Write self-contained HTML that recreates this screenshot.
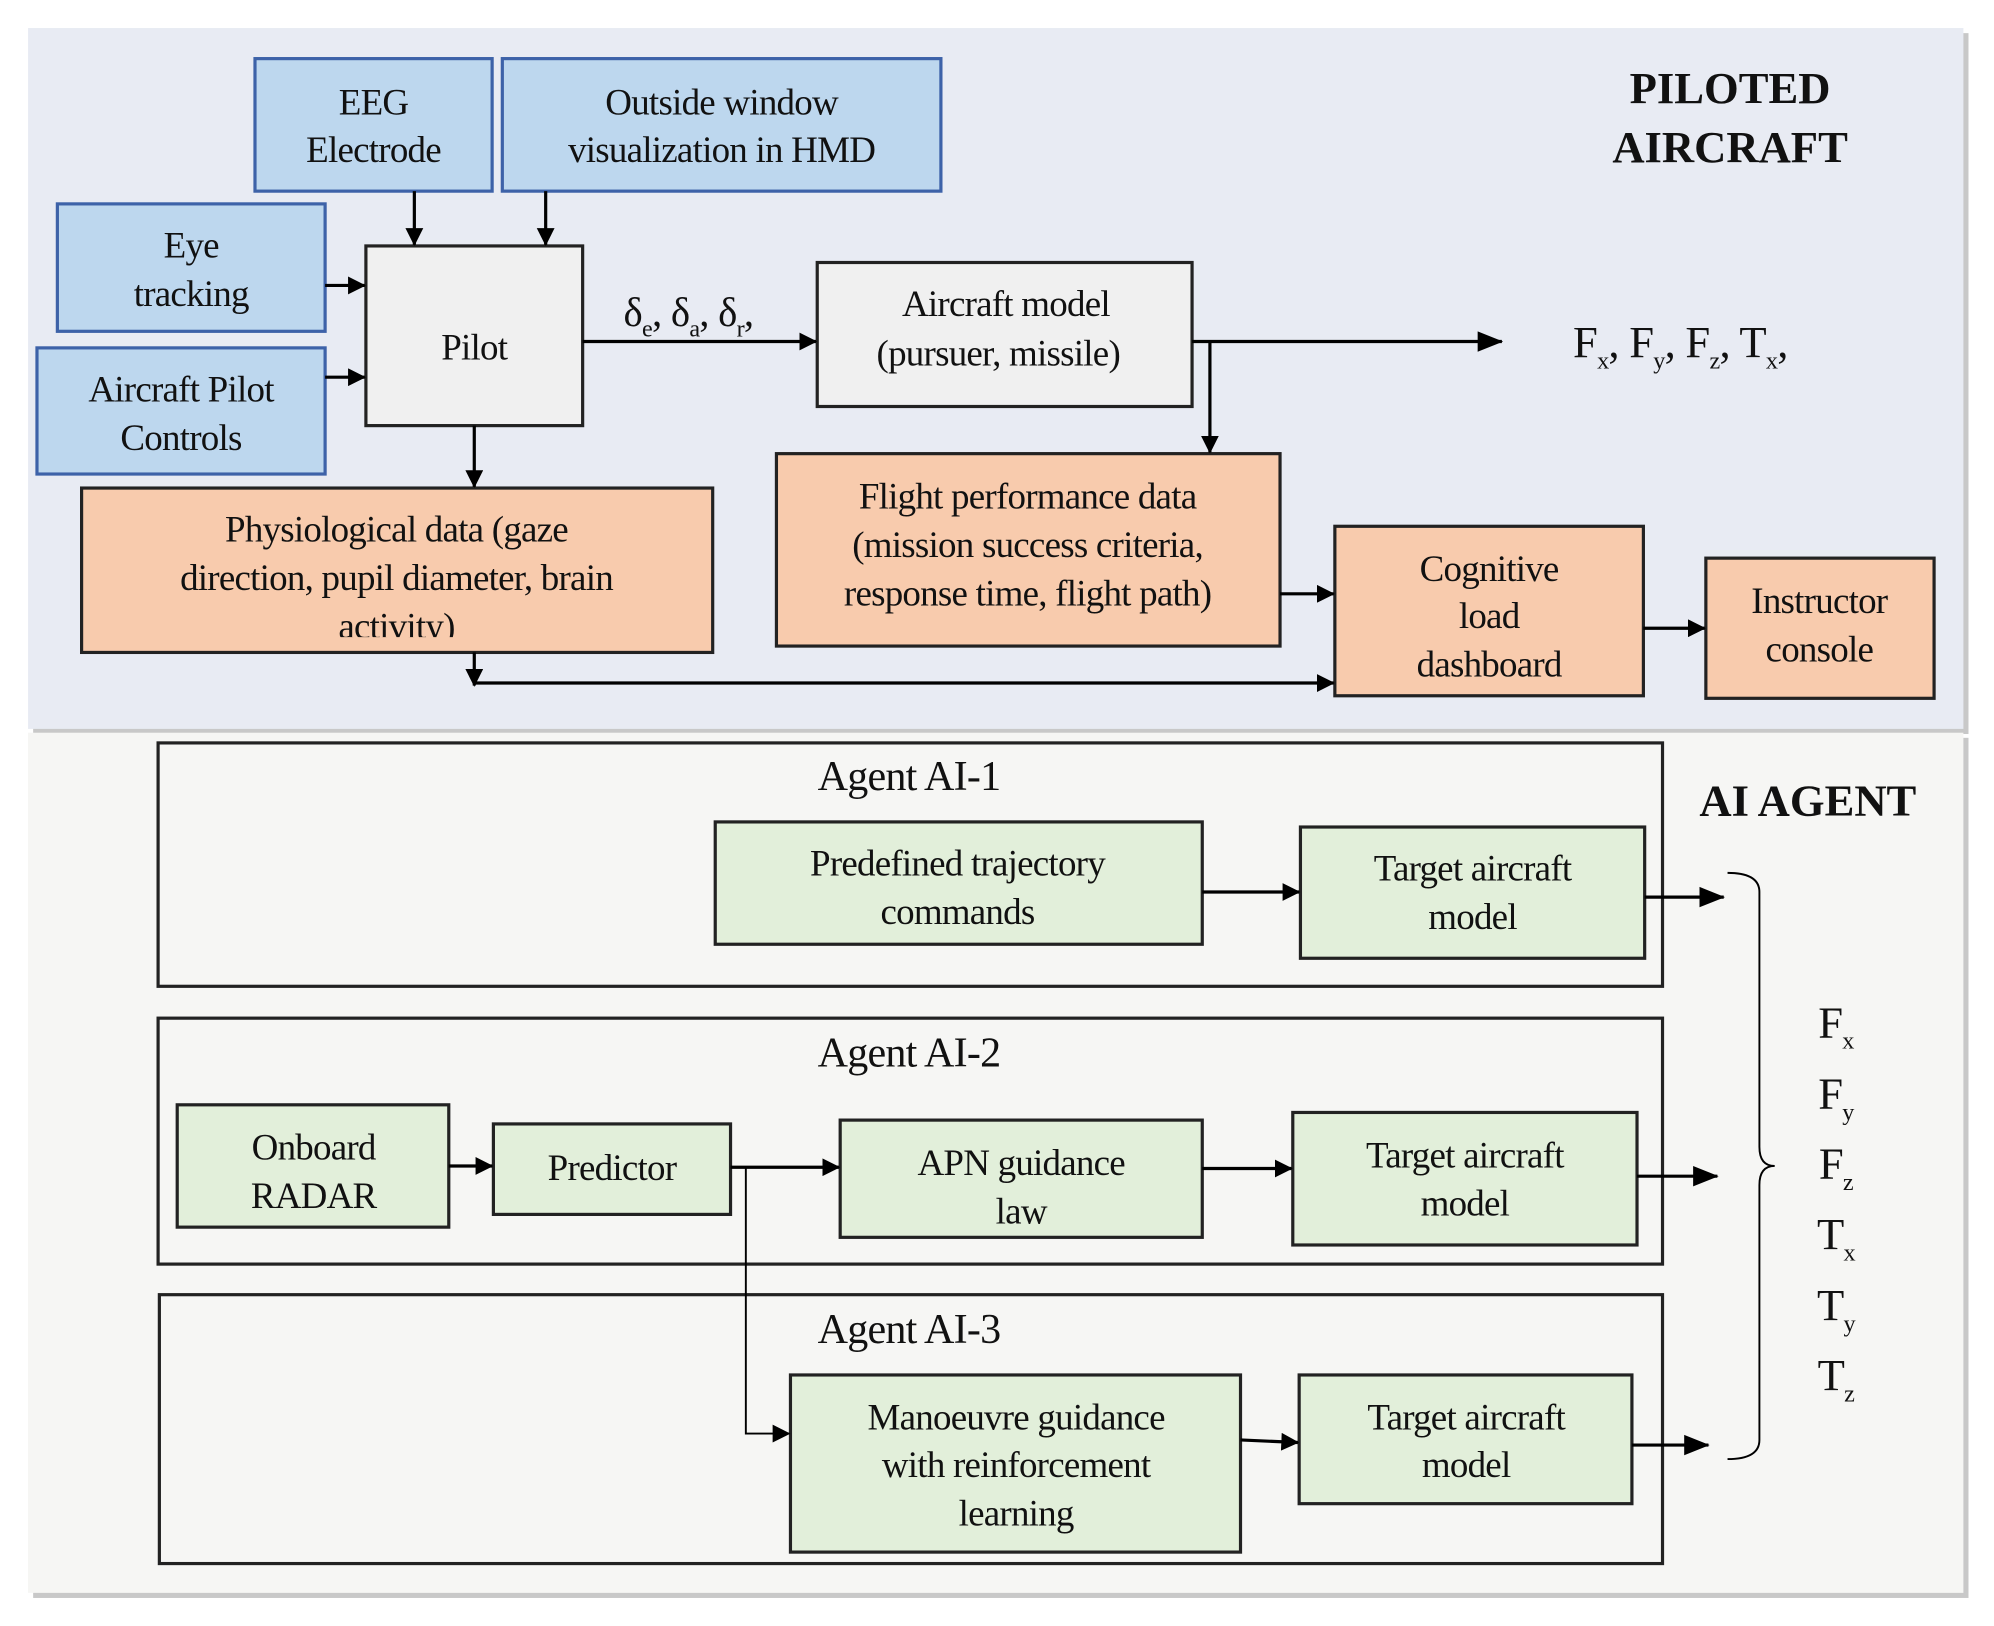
<!DOCTYPE html>
<html><head><meta charset="utf-8"><style>
html,body{margin:0;padding:0;background:#fff}
svg{display:block}
text{font-family:"Liberation Serif",serif;fill:#111;font-size:29px;text-anchor:middle;letter-spacing:-0.6px}
.b{font-weight:bold;font-size:35px;letter-spacing:0}
.t{font-size:33px}
.sub{font-size:19px}
</style></head><body>
<svg width="1994" height="1626" viewBox="0 0 1564 1276" preserveAspectRatio="none" xmlns="http://www.w3.org/2000/svg">
<defs>
<marker id="a" markerWidth="14" markerHeight="14" refX="13" refY="7" orient="auto" markerUnits="userSpaceOnUse" viewBox="0 0 14 14"><path d="M0,0 L14,7 L0,14 z" fill="#000"/></marker>
<marker id="A" markerWidth="20" markerHeight="20" refX="19" refY="10" orient="auto" markerUnits="userSpaceOnUse" viewBox="0 0 20 20"><path d="M0,2 L20,10 L0,18 z" fill="#000"/></marker>
</defs>
<rect x="0" y="0" width="1564" height="1276" fill="#fff"/>
<rect x="26" y="26" width="1518" height="550" fill="#c8c8c8"/>
<rect x="22" y="22" width="1518" height="550" fill="#e8ebf3"/>
<rect x="26" y="579" width="1518" height="675" fill="#c8c8c8"/>
<rect x="22" y="575" width="1518" height="675" fill="#f6f6f4"/>

<g stroke="#3d62a8" stroke-width="2.5" fill="#bdd7ee">
<rect x="200" y="46" width="186" height="104"/>
<rect x="394" y="46" width="344" height="104"/>
<rect x="45" y="160" width="210" height="100"/>
<rect x="29" y="273" width="226" height="99"/>
</g>
<g stroke="#222" stroke-width="2.5" fill="#f0f0f0">
<rect x="287" y="193" width="170" height="141"/>
<rect x="641" y="206" width="294" height="113"/>
</g>
<g stroke="#222" stroke-width="2.5" fill="#f8cbad">
<rect x="64" y="383" width="495" height="129"/>
<rect x="609" y="356" width="395" height="151"/>
<rect x="1047" y="413" width="242" height="133"/>
<rect x="1338" y="438" width="179" height="110"/>
</g>

<text x="293" y="90">EEG</text><text x="293" y="127">Electrode</text>
<text x="566" y="90">Outside window</text><text x="566" y="127">visualization in HMD</text>
<text x="150" y="202">Eye</text><text x="150" y="240">tracking</text>
<text x="142" y="315">Aircraft Pilot</text><text x="142" y="353">Controls</text>
<text x="372" y="282">Pilot</text>
<text x="789" y="248">Aircraft model</text><text x="783" y="287">(pursuer, missile)</text>
<text x="311" y="425">Physiological data (gaze</text><text x="311" y="463">direction, pupil diameter, brain</text>
<svg x="64" y="470" width="495" height="30" viewBox="64 470 495 30" overflow="hidden"><text x="311" y="501">activity)</text></svg>
<text x="806" y="399">Flight performance data</text><text x="806" y="437">(mission success criteria,</text><text x="806" y="475">response time, flight path)</text>
<text x="1168" y="456">Cognitive</text><text x="1168" y="493">load</text><text x="1168" y="531">dashboard</text>
<text x="1427" y="481">Instructor</text><text x="1427" y="519">console</text>
<text class="b" x="1357" y="81">PILOTED</text><text class="b" x="1357" y="127">AIRCRAFT</text>

<text x="540" y="256" style="font-size:32px">δ<tspan class="sub" dy="8">e</tspan><tspan dy="-8">, δ</tspan><tspan class="sub" dy="8">a</tspan><tspan dy="-8">, δ</tspan><tspan class="sub" dy="8">r</tspan><tspan dy="-8">,</tspan></text>
<text x="1318" y="280" style="font-size:35px">F<tspan class="sub" dy="9">x</tspan><tspan dy="-9">, F</tspan><tspan class="sub" dy="9">y</tspan><tspan dy="-9">, F</tspan><tspan class="sub" dy="9">z</tspan><tspan dy="-9">, T</tspan><tspan class="sub" dy="9">x</tspan><tspan dy="-9">,</tspan></text>

<g stroke="#000" stroke-width="2.5" fill="none">
<line x1="325" y1="150" x2="325" y2="192" marker-end="url(#a)"/>
<line x1="428" y1="150" x2="428" y2="192" marker-end="url(#a)"/>
<line x1="255" y1="224" x2="286" y2="224" marker-end="url(#a)"/>
<line x1="255" y1="296" x2="286" y2="296" marker-end="url(#a)"/>
<line x1="372" y1="334" x2="372" y2="382" marker-end="url(#a)"/>
<line x1="457" y1="268" x2="640" y2="268" marker-end="url(#a)"/>
<line x1="935" y1="268" x2="1178" y2="268" marker-end="url(#A)"/>
<line x1="949" y1="268" x2="949" y2="355" marker-end="url(#a)"/>
<line x1="1004" y1="466" x2="1046" y2="466" marker-end="url(#a)"/>
<line x1="1289" y1="493" x2="1337" y2="493" marker-end="url(#a)"/>
<line x1="372" y1="512" x2="372" y2="538" marker-end="url(#a)"/>
<line x1="372" y1="536" x2="1046" y2="536" marker-end="url(#a)"/>
</g>

<g stroke="#222" stroke-width="2.5" fill="none">
<rect x="124" y="583" width="1180" height="191"/>
<rect x="124" y="799" width="1180" height="193"/>
<rect x="125" y="1016" width="1179" height="211"/>
</g>
<text class="t" x="713" y="620">Agent AI-1</text>
<text class="t" x="713" y="837">Agent AI-2</text>
<text class="t" x="713" y="1054">Agent AI-3</text>
<text class="b" x="1418" y="640">AI AGENT</text>

<g stroke="#222" stroke-width="2.5" fill="#e2efda">
<rect x="561" y="645" width="382" height="96"/>
<rect x="1020" y="649" width="270" height="103"/>
<rect x="139" y="867" width="213" height="96"/>
<rect x="387" y="882" width="186" height="71"/>
<rect x="659" y="879" width="284" height="92"/>
<rect x="1014" y="873" width="270" height="104"/>
<rect x="620" y="1079" width="353" height="139"/>
<rect x="1019" y="1079" width="261" height="101"/>
</g>
<text x="751" y="687">Predefined trajectory</text><text x="751" y="725">commands</text>
<text x="1155" y="691">Target aircraft</text><text x="1155" y="729">model</text>
<text x="246" y="910">Onboard</text><text x="246" y="948">RADAR</text>
<text x="480" y="926">Predictor</text>
<svg x="659" y="879" width="284" height="90" viewBox="659 879 284 90" overflow="hidden"><text x="801" y="922">APN guidance</text><text x="801" y="960">law</text></svg>
<text x="1149" y="916">Target aircraft</text><text x="1149" y="954">model</text>
<text x="797" y="1122">Manoeuvre guidance</text><text x="797" y="1159">with reinforcement</text><text x="797" y="1197">learning</text>
<text x="1150" y="1122">Target aircraft</text><text x="1150" y="1159">model</text>

<g stroke="#000" stroke-width="2.5" fill="none">
<line x1="943" y1="700" x2="1019" y2="700" marker-end="url(#a)"/>
<line x1="1290" y1="704" x2="1352" y2="704" marker-end="url(#A)"/>
<line x1="352" y1="915" x2="386" y2="915" marker-end="url(#a)"/>
<line x1="573" y1="916" x2="658" y2="916" marker-end="url(#a)"/>
<line x1="943" y1="917" x2="1013" y2="917" marker-end="url(#a)"/>
<line x1="1284" y1="923" x2="1347" y2="923" marker-end="url(#A)"/>
<polyline points="585,916 585,1125 619,1125" stroke-width="1.5" marker-end="url(#a)"/>
<line x1="973" y1="1130" x2="1018" y2="1132" marker-end="url(#a)"/>
<line x1="1280" y1="1134" x2="1340" y2="1134" marker-end="url(#A)"/>
<path d="M1355,685 Q1380,685 1380,700 L1380,900 Q1380,915 1392,915 Q1380,915 1380,930 L1380,1130 Q1380,1145 1355,1145" stroke-width="1.5"/>
</g>
<text x="1440" y="814" style="font-size:35px">F<tspan class="sub" dy="9">x</tspan></text>
<text x="1440" y="870" style="font-size:35px">F<tspan class="sub" dy="9">y</tspan></text>
<text x="1440" y="925" style="font-size:35px">F<tspan class="sub" dy="9">z</tspan></text>
<text x="1440" y="980" style="font-size:35px">T<tspan class="sub" dy="9">x</tspan></text>
<text x="1440" y="1036" style="font-size:35px">T<tspan class="sub" dy="9">y</tspan></text>
<text x="1440" y="1091" style="font-size:35px">T<tspan class="sub" dy="9">z</tspan></text>
</svg>
</body></html>
